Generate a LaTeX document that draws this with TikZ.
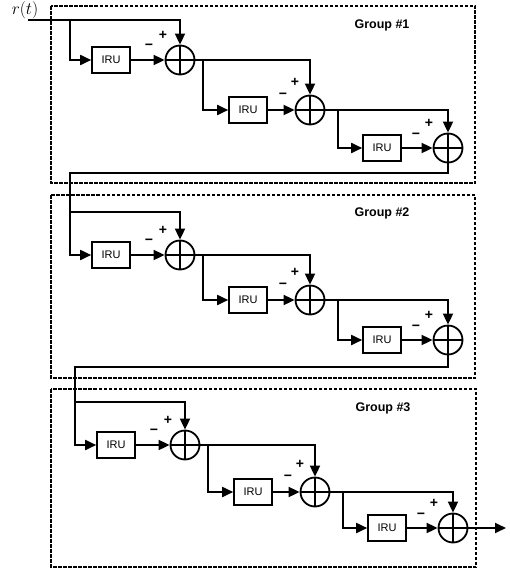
\documentclass[tikz,border=0pt]{standalone}
\usepackage{fontspec}
\setmainfont{Liberation Sans}
\usetikzlibrary{arrows.meta}
\tikzset{
  wire/.style={line width=1.8pt},
  arr/.style={wire,-{Triangle[length=11pt,width=10pt]}},
  irubox/.style={draw,line width=1.6pt,minimum width=38pt,minimum height=26pt,inner sep=0pt,font=\fontsize{11}{12}\selectfont},
  summer/.style={draw,circle,line width=1.8pt,minimum size=29pt,inner sep=0pt,
    path picture={\draw[line width=1.6pt] (path picture bounding box.north) -- (path picture bounding box.south)
      (path picture bounding box.west) -- (path picture bounding box.east);}},
  grp/.style={line width=1.5pt,dash pattern=on 3.5pt off 1.5pt},
  glabel/.style={font=\bfseries\fontsize{12.5}{14}\selectfont},
  sign/.style={font=\bfseries\fontsize{14}{16}\selectfont,inner sep=0pt}
}
\newcommand\irugroup[6]{%
  \node[summer] (#1sA) at ({180+#2},#4) {};
  \node[irubox] (#1iA) at ({111+#2},#4) {IRU};
  \node[summer] (#1sB) at ({310+#2},#5) {};
  \node[irubox] (#1iB) at ({248+#2},#5) {IRU};
  \node[summer] (#1sC) at ({448+#2},#6) {};
  \node[irubox] (#1iC) at ({382+#2},#6) {IRU};
  \coordinate (#1jA) at ({70+#2},#3);
  \coordinate (#1jB) at ({203+#2},#4);
  \coordinate (#1jC) at ({338+#2},#5);
  \draw[arr] (#1jA) -| (#1sA.north);
  \draw[arr] (#1jA) |- (#1iA.west);
  \draw[arr] (#1iA) -- (#1sA);
  \draw[arr] (#1sA.east) -| (#1sB.north);
  \draw[arr] (#1jB) |- (#1iB.west);
  \draw[arr] (#1iB) -- (#1sB);
  \draw[arr] (#1sB.east) -| (#1sC.north);
  \draw[arr] (#1jC) |- (#1iC.west);
  \draw[arr] (#1iC) -- (#1sC);
  \node[sign] (#1pA) at ([shift={(-17,-25)}]#1sA) {+};
  \node[sign] (#1mA) at ([shift={(-31,-13)}]#1sA) {−};
  \node[sign] (#1pB) at ([shift={(-15,-28)}]#1sB) {+};
  \node[sign] (#1mB) at ([shift={(-27,-14)}]#1sB) {−};
  \node[sign] (#1pC) at ([shift={(-19,-25)}]#1sC) {+};
  \node[sign] (#1mC) at ([shift={(-32,-12)}]#1sC) {−};
}
\begin{document}
\begin{tikzpicture}[x=1pt,y=-1pt]
  \useasboundingbox (0,0) rectangle (510,570);
  % group frames
  \draw[grp] (51,6) rectangle (475,183);
  \draw[grp] (51,195) rectangle (475,378);
  \draw[grp] (51,389) rectangle (476,567);
  \node[glabel] (g1) at (382,25) {Group \#1};
  \node[glabel] (g2) at (382,213) {Group \#2};
  \node[glabel] (g3) at (383,408) {Group \#3};
  % input
  \node[font=\fontsize{16}{18}\selectfont,inner sep=0pt] (rt) at (25,10) {$r(t)$};
  \coordinate (rin) at (28,20);
  % groups
  \irugroup{1}{0}{20}{60}{110}{148}
  \irugroup{2}{0}{212}{255}{300}{340}
  \irugroup{3}{5}{402}{445}{492}{528}
  \draw[wire] (rin) -- (1jA);
  % links between groups
  \coordinate (1ret) at (70,173);
  \coordinate (2ret) at (75,367);
  \draw[wire] (1sC.south) |- (1ret) -- (2jA);
  \draw[wire] (2sC.south) |- (2ret) -- (3jA);
  % output
  \coordinate (out) at (506,528);
  \draw[arr] (3sC.east) -- (out);
\end{tikzpicture}
\end{document}
